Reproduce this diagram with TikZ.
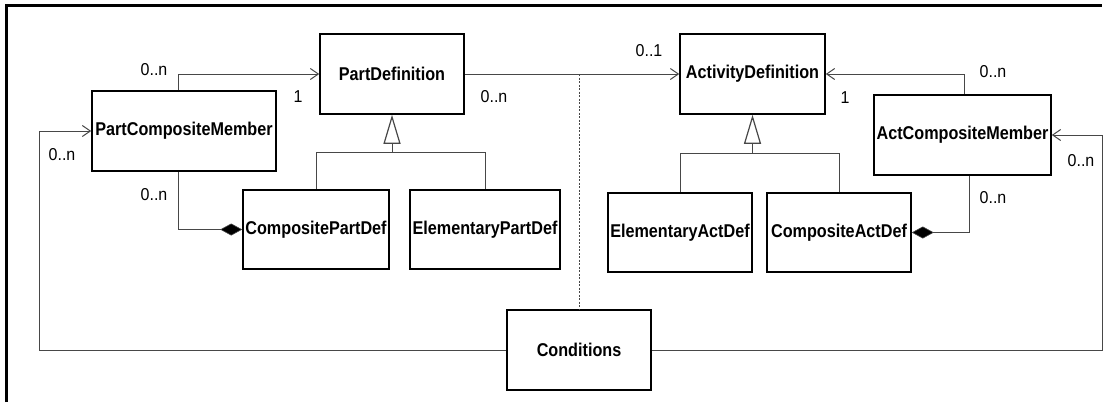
\documentclass[tikz,border=0pt]{standalone}
\usepackage{fontspec}
\setmainfont{Liberation Sans}
\usetikzlibrary{arrows.meta,calc}

% class names and multiplicities are set in a narrowed Arial-width face
\newcommand{\clsname}[1]{\scalebox{0.875}[1]{\fontsize{18.5}{20}\selectfont\bfseries #1}}
\newcommand{\multtext}[1]{\scalebox{0.93}[1]{\fontsize{17.2}{19}\selectfont #1}}

\tikzset{
  classbox/.style={draw=black, line width=1.6pt, fill=white, inner sep=0pt,
    minimum height=80pt},
  link/.style={draw=black!72, line width=1pt},
  nav/.style={link, -{Straight Barb[length=8pt,width=11pt,line width=1pt]}},
  compo/.style={link, {Diamond[length=22pt,width=12pt,fill=black,line width=0.6pt]}-},
  gen/.style={link, -{Triangle[open,length=29pt,width=17pt,fill=white,line width=1.2pt]}},
  mult/.style={inner sep=0pt},
}

\begin{document}
\begin{tikzpicture}[x=1pt,y=-1pt]
\useasboundingbox (0,0) rectangle (1107,402);

% diagram frame
\draw[line width=3pt] (6,402) -- (6,5) -- (1102,5);

% classes
\node[classbox, minimum width=144pt] (pd)   at (392,74)    {\clsname{PartDefinition}};
\node[classbox, minimum width=184pt] (pcm)  at (184,131)   {\clsname{PartCompositeMember}};
\node[classbox, minimum width=146pt, minimum height=79pt] (cpd) at (316,229.5) {\clsname{CompositePartDef}};
\node[classbox, minimum width=150pt, minimum height=79pt] (epd) at (485,229.5) {\clsname{ElementaryPartDef}};
\node[classbox, minimum width=145pt] (ad)   at (752.5,74)  {\clsname{ActivityDefinition}};
\node[classbox, minimum width=177pt] (acm)  at (962.5,135) {\clsname{ActCompositeMember}};
\node[classbox, minimum width=144pt, minimum height=79pt] (ead) at (680,232.5) {\clsname{ElementaryActDef}};
\node[classbox, minimum width=144pt, minimum height=79pt] (cad) at (839,232.5) {\clsname{CompositeActDef}};
\node[classbox, minimum width=144pt] (cond) at (579,350)   {\clsname{Conditions}};

% generalisations
\coordinate (pj) at ($(pd.south)+(0,38)$);
\draw[link] (cpd.north) |- (pj) -| (epd.north);
\draw[gen] (pj) -- (pd.south);
\coordinate (aj) at ($(ad.south)+(0,39)$);
\draw[link] (ead.north) |- (aj) -| (cad.north);
\draw[gen] (aj) -- (ad.south);

% associations
\draw[nav] ($(pcm.north)+(-6,0)$) |- (pd.west);
\draw[nav] (pd.east) -- (ad.west);
\draw[nav] ($(acm.north)+(1.5,0)$) |- (ad.east);
\draw[compo] (cpd.west) -| ($(pcm.south)+(-6,0)$);
\draw[compo] (cad.east) -| ($(acm.south)+(6.5,0)$);
\draw[nav] (cond.west) -| ($(pcm.west)+(-52,0)$) -- (pcm.west);
\draw[nav] (cond.east) -| ($(acm.east)+(51,0)$) -- (acm.east);

% association class link
\coordinate (dj) at (cond.north |- pd.east);
\draw[link, dash pattern=on 2pt off 1.5pt] (dj) -- (cond.north);

% multiplicities
\node[mult] at (154,70)   {\multtext{0..n}};
\node[mult] at (298,97)   {\multtext{1}};
\node[mult] at (62,154.5) {\multtext{0..n}};
\node[mult] at (154,195)  {\multtext{0..n}};
\node[mult] at (494,97)   {\multtext{0..n}};
\node[mult] at (649,51)   {\multtext{0..1}};
\node[mult] at (993,72)   {\multtext{0..n}};
\node[mult] at (845,98)   {\multtext{1}};
\node[mult] at (1081,161) {\multtext{0..n}};
\node[mult] at (993,198)  {\multtext{0..n}};
\end{tikzpicture}
\end{document}
